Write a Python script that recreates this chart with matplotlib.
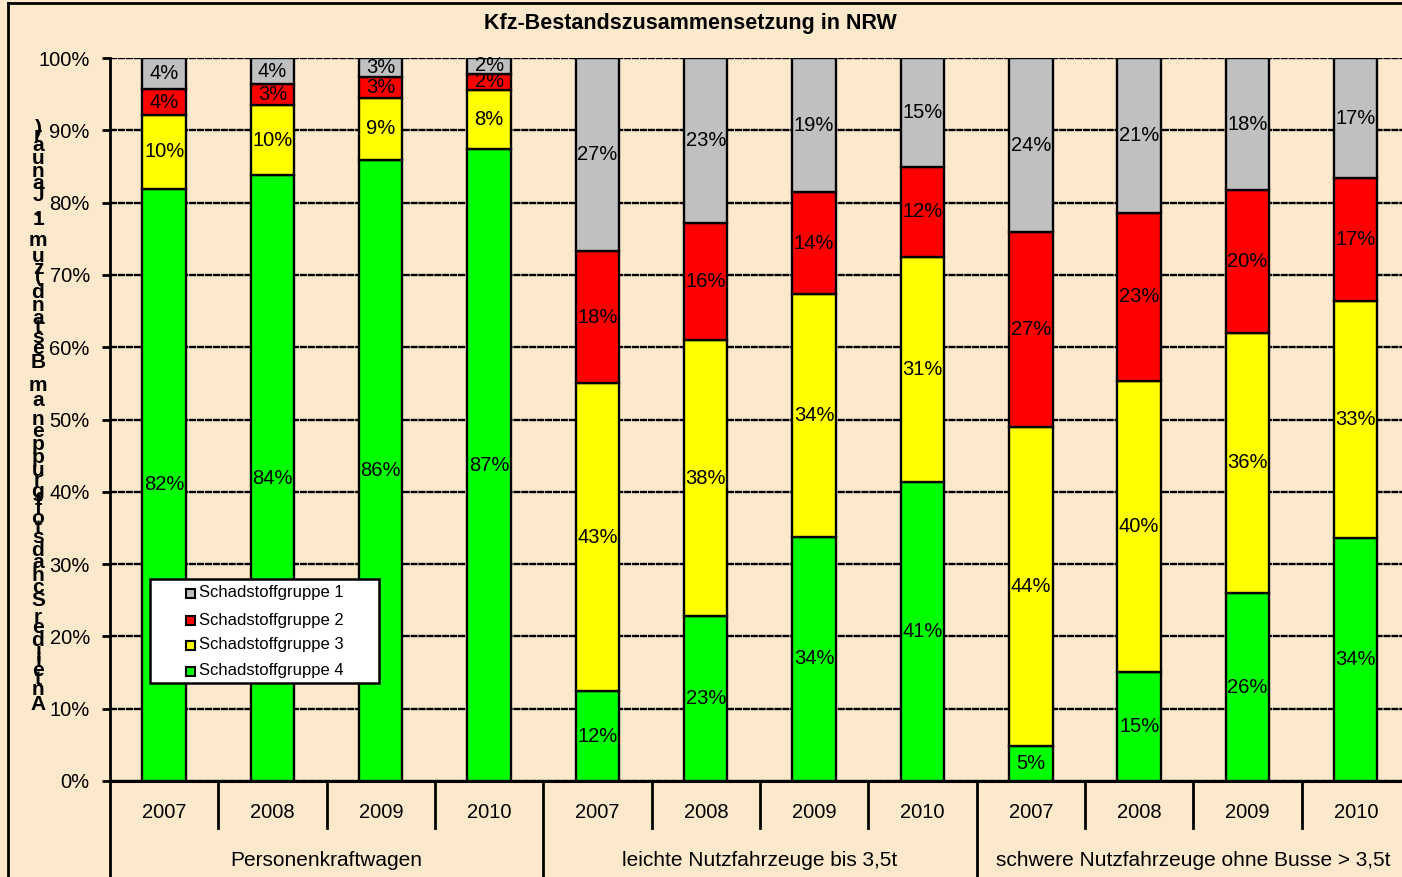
import matplotlib
matplotlib.use("Agg")
import matplotlib.pyplot as plt
import numpy as np
from matplotlib.lines import Line2D
from matplotlib.patches import Rectangle
from matplotlib.font_manager import FontProperties, findfont
from matplotlib.ft2font import FT2Font
import matplotlib.transforms as mtransforms

# ---------------- data ----------------
groups = ["Personenkraftwagen", "leichte Nutzfahrzeuge bis 3,5t",
          "schwere Nutzfahrzeuge ohne Busse > 3,5t"]
years = ["2007", "2008", "2009", "2010"]
series_names = ["Schadstoffgruppe 1", "Schadstoffgruppe 2",
                "Schadstoffgruppe 3", "Schadstoffgruppe 4"]
# shares in percent, order: PKW 2007-2010, LNF 2007-2010, SNF 2007-2010
gruppe4 = [81.9, 83.8, 85.9, 87.4, 12.4, 22.8, 33.8, 41.4, 4.9, 15.1, 26.0, 33.6]
gruppe3 = [10.2, 9.7, 8.6, 8.2, 42.6, 38.2, 33.6, 31.1, 44.1, 40.2, 36.0, 32.8]
gruppe2 = [3.6, 2.9, 2.9, 2.2, 18.3, 16.2, 14.0, 12.4, 26.9, 23.3, 19.7, 17.0]
gruppe1 = [4.3, 3.6, 2.6, 2.2, 26.7, 22.8, 18.6, 15.1, 24.1, 21.4, 18.3, 16.6]
colors = {"Schadstoffgruppe 1": "#C0C0C0", "Schadstoffgruppe 2": "#FF0000",
          "Schadstoffgruppe 3": "#FFFF00", "Schadstoffgruppe 4": "#00FF00"}

title = "Kfz-Bestandszusammensetzung in NRW"
ylabel = "Anteil der Schadstoffgruppen am Bestand (zum 1. Januar)"

# ---------------- layout ----------------
W, H = 1402, 877
BG = "#FCE9CC"
FONT = "Liberation Sans"
plt.rcParams["font.family"] = [FONT, "DejaVu Sans"]

fig = plt.figure(figsize=(W / 100, H / 100), dpi=100)
fig.patch.set_facecolor(BG)

def fx(px):
    return px / W

def fy(py):
    return 1 - py / H

ax_left, ax_right, ax_top, ax_bottom = 110, 1410, 58, 781
ax = fig.add_axes([fx(ax_left), fy(ax_bottom), fx(ax_right - ax_left),
                   (ax_bottom - ax_top) / H])
ax.set_facecolor(BG)

n = len(gruppe4)
x = np.arange(n) + 0.5
stack = [("Schadstoffgruppe 4", gruppe4), ("Schadstoffgruppe 3", gruppe3),
         ("Schadstoffgruppe 2", gruppe2), ("Schadstoffgruppe 1", gruppe1)]
bottom = np.zeros(n)
for name, vals in stack:
    vals = np.array(vals)
    ax.bar(x, vals, bottom=bottom, width=0.4, color=colors[name],
           edgecolor="black", linewidth=1.7, zorder=3)
    for xi, b, v in zip(x, bottom, vals):
        ax.text(xi, b + v / 2, "%d%%" % int(np.floor(v + 0.5)), ha="center",
                va="center", fontsize=14.5, color="black", zorder=4)
    bottom = bottom + vals

ax.set_xlim(0, n)
ax.set_ylim(0, 100)
ax.set_yticks(np.arange(0, 101, 10))
ax.set_yticklabels(["%d%%" % v for v in range(0, 101, 10)], fontsize=14.5)
ax.tick_params(axis="y", length=6, width=2, pad=8.5, direction="out")
ax.set_xticks([])
ax.yaxis.grid(True, color="black", linewidth=1.7, linestyle=(0, (3, 0.35)))
ax.set_axisbelow(True)
for s in ["top", "right"]:
    ax.spines[s].set_visible(False)
ax.spines["left"].set_linewidth(2)
ax.spines["bottom"].set_linewidth(2.2)

# category labels
trans = mtransforms.blended_transform_factory(ax.transData, ax.transAxes)
ph = ax_bottom - ax_top
for i in range(n):
    ax.text(x[i], -(813 - ax_bottom) / ph, years[i % 4], transform=trans,
            ha="center", va="center", fontsize=14.5)
for k in range(n + 1):
    length = (877 - ax_bottom) / ph if k % 4 == 0 else (828 - ax_bottom) / ph
    ax.plot([k, k], [0, -length], transform=trans, color="black",
            linewidth=2, clip_on=False, zorder=5)
for g, name in enumerate(groups):
    ax.text(4 * g + 2, -(861 - ax_bottom) / ph, name, transform=trans,
            ha="center", va="center", fontsize=15)

# title
fig.text(fx(690), fy(23), title, ha="center", va="center", fontsize=15.5,
         fontweight="bold")

# legend (manual, pixel placed)
fig.add_artist(Rectangle((fx(150), fy(683)), fx(379 - 150), (683 - 579) / H,
                         transform=fig.transFigure, facecolor="white",
                         edgecolor="black", linewidth=1.8, zorder=10))
for j, name in enumerate(series_names):
    yy = [593, 620, 645, 671][j]
    fig.add_artist(Rectangle((fx(186), fy(yy + 4.5)), fx(9), 9 / H,
                             transform=fig.transFigure,
                             facecolor=colors[name], edgecolor="black",
                             linewidth=1.5, zorder=11))
    fig.text(fx(199), fy(yy), name, ha="left", va="center", fontsize=12,
             zorder=12)

# y-axis label (glyphs upright, stacked along the rotated baseline)
fp = FontProperties(family=FONT, weight="bold", size=15)
ft = FT2Font(findfont(fp))
ft.set_size(15, 100)
adv = []
for ch in ylabel:
    g = ft.load_char(ord(ch))
    adv.append(g.linearHoriAdvance / 65536.0)
cum = np.concatenate([[0], np.cumsum(adv)])
centers = cum[:-1] + np.array(adv) / 2
y_first, y_last = 704, 128
scale = (y_first - y_last) / (centers[-1] - centers[0])
for ch, c in zip(ylabel, centers):
    if ch == " ":
        continue
    py = y_first - (c - centers[0]) * scale
    fig.text(fx(38), fy(py), ch, ha="center", va="center", fontsize=15,
             fontweight="bold")

# outer frame lines
fig.add_artist(Line2D([fx(8), fx(1402)], [fy(3), fy(3)],
                      transform=fig.transFigure, color="black", linewidth=2))
fig.add_artist(Line2D([fx(8), fx(8)], [fy(3), fy(877)],
                      transform=fig.transFigure, color="black", linewidth=2))

fig.savefig("out.png", dpi=100, facecolor=BG)
